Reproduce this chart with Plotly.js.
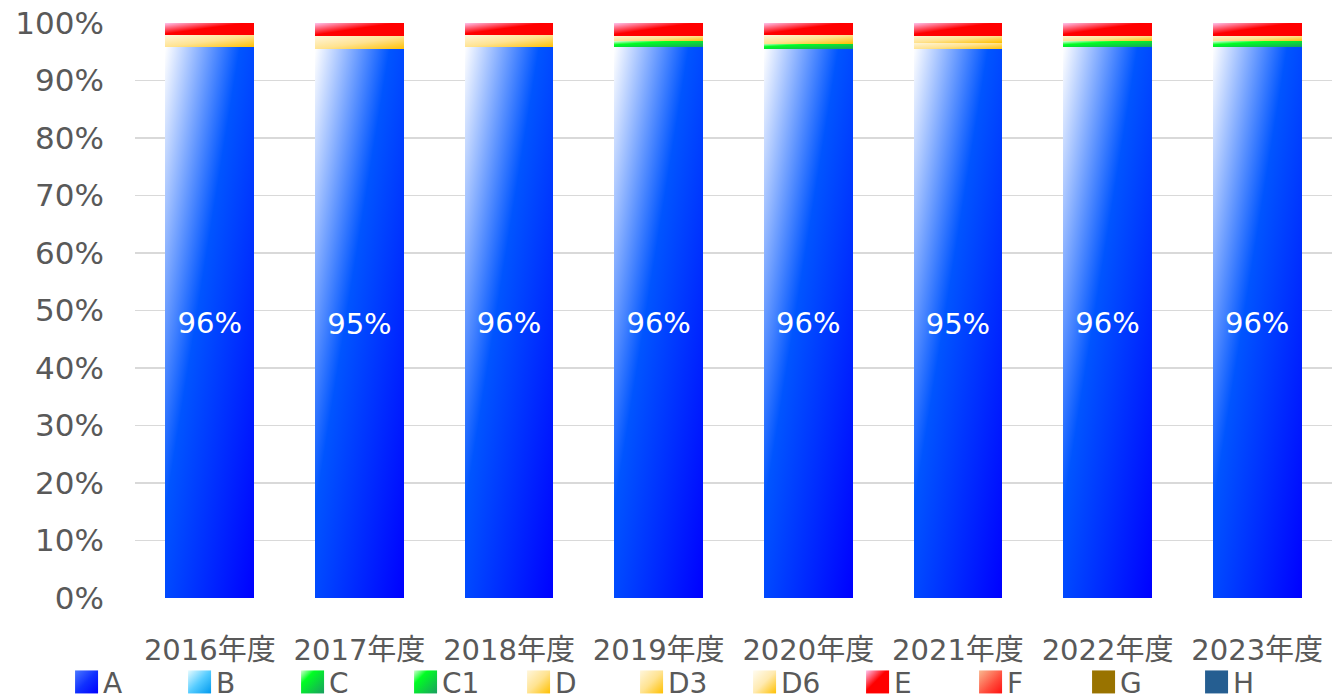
<!DOCTYPE html>
<html>
<head>
<meta charset="utf-8">
<script src="https://cdn.plot.ly/plotly-3.0.1.min.js"></script>
<style>html,body{margin:0;padding:0;background:#fff;}#chart{width:1332px;height:699px;}</style>
</head>
<body>
<div id="chart"></div>
<script>
const categories = ['2016年度','2017年度','2018年度','2019年度','2020年度','2021年度','2022年度','2023年度'];
const seriesNames = ['A','B','C','C1','D','D3','D6','E','F','G','H'];
const A  = [95.8, 95.4, 95.8, 95.8, 95.5, 95.4, 95.8, 95.8];
const B  = [0, 0, 0, 0, 0, 0, 0, 0];
const C  = [0, 0, 0, 1.0, 0.9, 0, 1.0, 1.0];
const C1 = [0, 0, 0, 0, 0, 0, 0, 0];
const D  = [2.1, 2.3, 2.1, 1.0, 1.5, 1.2, 1.0, 1.0];
const D3 = [0, 0, 0, 0, 0, 1.2, 0, 0];
const D6 = [0, 0, 0, 0, 0, 0, 0, 0];
const E  = [2.1, 2.3, 2.1, 2.2, 2.1, 2.2, 2.2, 2.2];
const F  = [0, 0, 0, 0, 0, 0, 0, 0];
const G  = [0, 0, 0, 0, 0, 0, 0, 0];
const H  = [0, 0, 0, 0, 0, 0, 0, 0];
const yTickVals = [0,10,20,30,40,50,60,70,80,90,100];
const yTickText = ['0%','10%','20%','30%','40%','50%','60%','70%','80%','90%','100%'];

const seriesValues = {A, B, C, C1, D, D3, D6, E, F, G, H};
const baseColors = {A:'#0044ff', B:'#33bbff', C:'#00dd33', C1:'#00dd33', D:'#ffd966', D3:'#ffd966', D6:'#ffe699', E:'#ff1010', F:'#ff5a3c', G:'#997300', H:'#255e91'};
const gradients = {
  A:  [[0,'#ffffff'],[0.42,'#0055ff'],[1,'#0000ff']],
  B:  [[0,'#e6fbff'],[0.5,'#55ccff'],[1,'#0099ee']],
  C:  [[0,'#d0ffd0'],[0.3,'#00ff22'],[1,'#1a9e60']],
  C1: [[0,'#d0ffd0'],[0.3,'#00ff22'],[1,'#1a9e60']],
  D:  [[0,'#fff6dc'],[0.5,'#ffe391'],[1,'#ffc000']],
  D3: [[0,'#fff6dc'],[0.5,'#ffe391'],[1,'#ffc000']],
  D6: [[0,'#fffcf2'],[0.5,'#ffeab0'],[1,'#ffc000']],
  E:  [[0,'#ffc4f0'],[0.45,'#ff0000'],[1,'#ff0000']],
  F:  [[0,'#f9b890'],[0.6,'#ff4a3a'],[1,'#ff1010']],
  G:  [[0,'#997300'],[1,'#997300']],
  H:  [[0,'#255e91'],[1,'#255e91']]
};
const legendGradients = Object.assign({}, gradients, {
  A: [[0,'#4a78ff'],[0.5,'#1030ff'],[1,'#0000ff']]
});

const FONT = '"DejaVu Sans", "Noto Sans CJK JP", sans-serif';

const traces = seriesNames.map(name => {
  const vals = seriesValues[name];
  const t = {
    type: 'bar', name: name, x: categories, y: vals,
    marker: {color: baseColors[name], line: {width: 0}},
    hoverinfo: 'skip'
  };
  if (name === 'A') {
    t.text = vals.map(v => Math.round(v) + '%');
    t.textposition = 'inside';
    t.insidetextanchor = 'middle';
    t.textangle = 0;
    t.textfont = {family: FONT, size: 29, color: '#ffffff'};
  } else {
    t.textposition = 'none';
  }
  return t;
});

const layout = {
  width: 1332, height: 699,
  margin: {l: 135, r: 0, t: 23, b: 101, autoexpand: false},
  barmode: 'stack',
  bargap: 0.407,
  paper_bgcolor: '#ffffff', plot_bgcolor: '#ffffff',
  font: {family: FONT, size: 28, color: '#595959'},
  xaxis: {
    type: 'category', showgrid: false, zeroline: false, showline: false,
    ticks: '', ticklabelstandoff: 32,
    tickfont: {family: FONT, size: 29, color: '#595959'}
  },
  yaxis: {
    range: [0, 100], tickvals: yTickVals, ticktext: yTickText,
    showgrid: true, gridcolor: '#d9d9d9', gridwidth: 1.5,
    zeroline: false, showline: false, ticks: '', ticklabelstandoff: 30,
    tickfont: {family: FONT, size: 31, color: '#595959'}
  },
  showlegend: true,
  legend: {
    orientation: 'h', traceorder: 'normal',
    xref: 'paper', x: -0.0601, xanchor: 'left',
    yref: 'paper', y: -0.1465, yanchor: 'middle',
    entrywidth: 68, entrywidthmode: 'pixels',
    font: {family: FONT, size: 28, color: '#595959'},
    bgcolor: 'rgba(0,0,0,0)'
  }
};

const gd = document.getElementById('chart');

function makeGrad(defs, id, stops) {
  const lg = document.createElementNS('http://www.w3.org/2000/svg', 'linearGradient');
  lg.setAttribute('id', id);
  lg.setAttribute('x1', '0'); lg.setAttribute('y1', '0');
  lg.setAttribute('x2', '1'); lg.setAttribute('y2', '1');
  stops.forEach(([o, c]) => {
    const st = document.createElementNS('http://www.w3.org/2000/svg', 'stop');
    st.setAttribute('offset', o);
    st.setAttribute('stop-color', c);
    lg.appendChild(st);
  });
  defs.appendChild(lg);
}

function applyGradients() {
  const svg = gd.querySelector('svg.main-svg');
  if (!svg) return;
  let defs = svg.querySelector('defs#custom-grads');
  if (!defs) {
    defs = document.createElementNS('http://www.w3.org/2000/svg', 'defs');
    defs.setAttribute('id', 'custom-grads');
    svg.insertBefore(defs, svg.firstChild);
    seriesNames.forEach(name => {
      makeGrad(defs, 'grad_' + name, gradients[name]);
      makeGrad(defs, 'lgrad_' + name, legendGradients[name]);
    });
  }
  const barTraces = gd.querySelectorAll('.barlayer .trace.bars');
  barTraces.forEach((tg, i) => {
    const name = seriesNames[i];
    tg.querySelectorAll('.point path').forEach(p => { p.style.fill = 'url(#grad_' + name + ')'; });
  });
  gd.querySelectorAll('.legend .scrollbox').forEach(sb => sb.removeAttribute('clip-path'));
  gd.querySelectorAll('.legend .traces').forEach(tr => {
    const txt = tr.querySelector('.legendtext');
    const name = txt ? txt.textContent : null;
    if (!name || !gradients[name]) return;
    tr.querySelectorAll('.legendpoints path').forEach(p => {
      p.setAttribute('d', 'M35,11.5H12V-11.5H35Z');
      p.removeAttribute('transform');
      p.style.fill = 'url(#lgrad_' + name + ')';
      p.style.stroke = 'none';
    });
  });
}

Plotly.newPlot(gd, traces, layout, {displayModeBar: false, staticPlot: true}).then(() => {
  applyGradients();
  gd.on('plotly_afterplot', applyGradients);
});
</script>
</body>
</html>
